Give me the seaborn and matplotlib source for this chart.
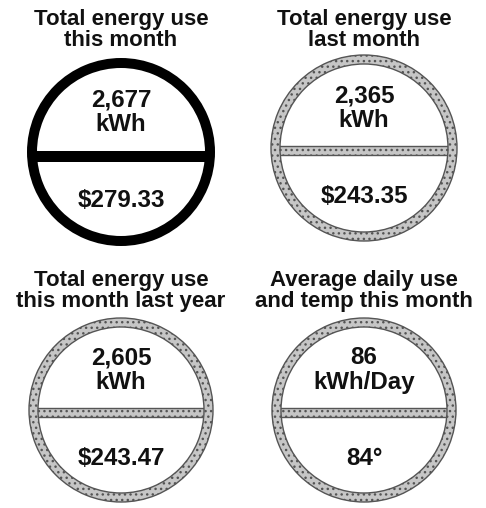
import numpy as np
import matplotlib
matplotlib.use("Agg")
import matplotlib.pyplot as plt
import seaborn as sns
from matplotlib.patches import Wedge, Rectangle

# --------------------------------
# Data
# --------------------------------
title_line1 = ["Total energy use", "Total energy use",
               "Total energy use", "Average daily use"]
title_line2 = ["this month", "last month",
               "this month last year", "and temp this month"]
top_values = ["2,677", "2,365", "2,605", "86"]
top_units = ["kWh", "kWh", "kWh", "kWh/Day"]
bottom_values = ["$279.33", "$243.35", "$243.47", "84\u00b0"]
is_current = [True, False, False, False]

# --------------------------------
# Layout (pixels)
# --------------------------------
W, H = 486, 508
centers = [(121, 152), (364, 148), (121, 410), (364, 410)]
radii = [94, 93, 92, 92]
title_base = [(25, 46), (25, 46), (286, 307), (286, 307)]
BOX = 112

sns.set_theme(style="white")
plt.rcParams["font.family"] = ["Liberation Sans", "DejaVu Sans"]

fig = plt.figure(figsize=(W / 100, H / 100), dpi=100)
fig.patch.set_facecolor("white")

for i in range(4):
    cx, cy = centers[i]
    r = radii[i]
    ax = fig.add_axes([(cx - BOX) / W, 1 - (cy + BOX) / H, 2 * BOX / W, 2 * BOX / H])
    ax.set_xlim(-BOX, BOX)
    ax.set_ylim(BOX, -BOX)
    ax.set_axis_off()

    if is_current[i]:
        width, bar_t, bar_y = 10, 11, 4
        style = dict(facecolor="black", edgecolor="black", linewidth=0)
    else:
        width, bar_t, bar_y = 9, 9, 2
        style = dict(facecolor="#c6c6c6", edgecolor="#555555",
                     linewidth=1.0, hatch="...")

    half = np.sqrt((r - width / 2) ** 2 - bar_y ** 2)
    ax.add_patch(Rectangle((-half, bar_y - bar_t / 2), 2 * half, bar_t, **style))
    ax.add_patch(Wedge((0, 0), r, 0, 360, width=width, **style))

    ax.text(0, -46, top_values[i], ha="center", va="baseline",
            fontsize=17.4, fontweight="bold", color="#111111")
    ax.text(0, -21, top_units[i], ha="center", va="baseline",
            fontsize=17.4, fontweight="bold", color="#111111")
    ax.text(0, 55, bottom_values[i], ha="center", va="baseline",
            fontsize=17.4, fontweight="bold", color="#111111")

    b1, b2 = title_base[i]
    fig.text(cx / W, 1 - b1 / H, title_line1[i], ha="center", va="baseline",
             fontsize=16, fontweight="bold", color="#111111")
    fig.text(cx / W, 1 - b2 / H, title_line2[i], ha="center", va="baseline",
             fontsize=16, fontweight="bold", color="#111111")

fig.savefig("out.png", dpi=100, facecolor="white")
